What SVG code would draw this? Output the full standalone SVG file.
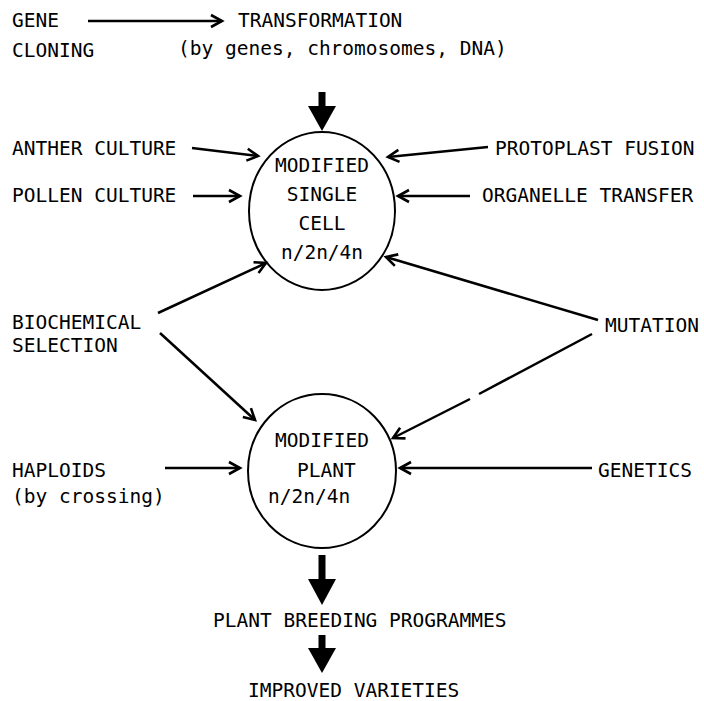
<svg xmlns="http://www.w3.org/2000/svg" width="704" height="701" viewBox="0 0 704 701">
<defs>
<style>
text{font-family:"DejaVu Sans Mono","Liberation Mono",monospace;font-size:19.5px;fill:#000}
.c{text-anchor:middle}
.ln{stroke:#000;stroke-width:2.5;fill:none}
.thick{stroke:#000;stroke-width:7;fill:none}
.node{fill:none;stroke:#000;stroke-width:2}
</style>
<marker id="open" markerUnits="userSpaceOnUse" markerWidth="16" markerHeight="16" refX="13" refY="7" orient="auto" viewBox="0 0 16 14">
<path d="M2,1 L13,7 L2,13" fill="none" stroke="#000" stroke-width="2.6" stroke-linejoin="miter"/>
</marker>
<marker id="solid" markerUnits="userSpaceOnUse" markerWidth="30" markerHeight="30" refX="26" refY="14" orient="auto" viewBox="0 0 28 28">
<path d="M0,0 L26,14 L0,28 Z" fill="#000"/>
</marker>
</defs>
<rect width="704" height="701" fill="#fff"/>

<g id="gene-cloning"><text x="12" y="27">GENE</text><text x="12" y="57">CLONING</text></g>
<g id="transformation"><text x="238" y="27">TRANSFORMATION</text><text x="178" y="55">(by genes, chromosomes, DNA)</text></g>
<g id="anther"><text x="12" y="155">ANTHER CULTURE</text></g>
<g id="pollen"><text x="12" y="202">POLLEN CULTURE</text></g>
<g id="protoplast"><text x="495" y="155">PROTOPLAST FUSION</text></g>
<g id="organelle"><text x="482" y="202">ORGANELLE TRANSFER</text></g>
<g id="cell"><ellipse class="node" cx="322" cy="211" rx="73" ry="79"/>
<text class="c" x="322" y="172">MODIFIED</text><text class="c" x="322" y="201">SINGLE</text><text class="c" x="322" y="230">CELL</text><text class="c" x="322" y="259">n/2n/4n</text></g>
<g id="biochemical"><text x="12" y="329">BIOCHEMICAL</text><text x="12" y="352">SELECTION</text></g>
<g id="mutation"><text x="605" y="332">MUTATION</text></g>
<g id="plant"><ellipse class="node" cx="322" cy="471" rx="74" ry="77"/>
<text class="c" x="322" y="447">MODIFIED</text><text x="297" y="477">PLANT</text><text x="268" y="503">n/2n/4n</text></g>
<g id="haploids"><text x="12" y="477">HAPLOIDS</text><text x="12" y="503">(by crossing)</text></g>
<g id="genetics"><text x="598" y="477">GENETICS</text></g>
<g id="breeding"><text x="213" y="627">PLANT BREEDING PROGRAMMES</text></g>
<g id="varieties"><text x="248" y="697">IMPROVED VARIETIES</text></g>

<g id="connectors">
<line class="ln" x1="88" y1="21" x2="222" y2="21" marker-end="url(#open)"/>
<line class="thick" x1="322" y1="92" x2="322" y2="112"/>
<path d="M308,106 L336,106 L322,131 Z" fill="#000"/>
<line class="ln" x1="192" y1="148" x2="258" y2="156" marker-end="url(#open)"/>
<line class="ln" x1="193" y1="196" x2="240" y2="196" marker-end="url(#open)"/>
<line class="ln" x1="488" y1="147" x2="388" y2="157" marker-end="url(#open)"/>
<line class="ln" x1="470" y1="196" x2="398" y2="196" marker-end="url(#open)"/>
<line class="ln" x1="158" y1="313" x2="266" y2="263" marker-end="url(#open)"/>
<line class="ln" x1="160" y1="333" x2="255" y2="420" marker-end="url(#open)"/>
<line class="ln" x1="598" y1="320" x2="386" y2="257" marker-end="url(#open)"/>
<line class="ln" x1="592" y1="334" x2="479" y2="394"/>
<line class="ln" x1="470" y1="399" x2="393" y2="438" marker-end="url(#open)"/>
<line class="ln" x1="165" y1="468" x2="240" y2="468" marker-end="url(#open)"/>
<line class="ln" x1="592" y1="468" x2="400" y2="468" marker-end="url(#open)"/>
<line class="thick" x1="322" y1="555" x2="322" y2="583"/>
<path d="M308,579 L336,579 L322,605 Z" fill="#000"/>
<line class="thick" x1="322" y1="635" x2="322" y2="652"/>
<path d="M308,648 L336,648 L322,673 Z" fill="#000"/>
</g>
</svg>
